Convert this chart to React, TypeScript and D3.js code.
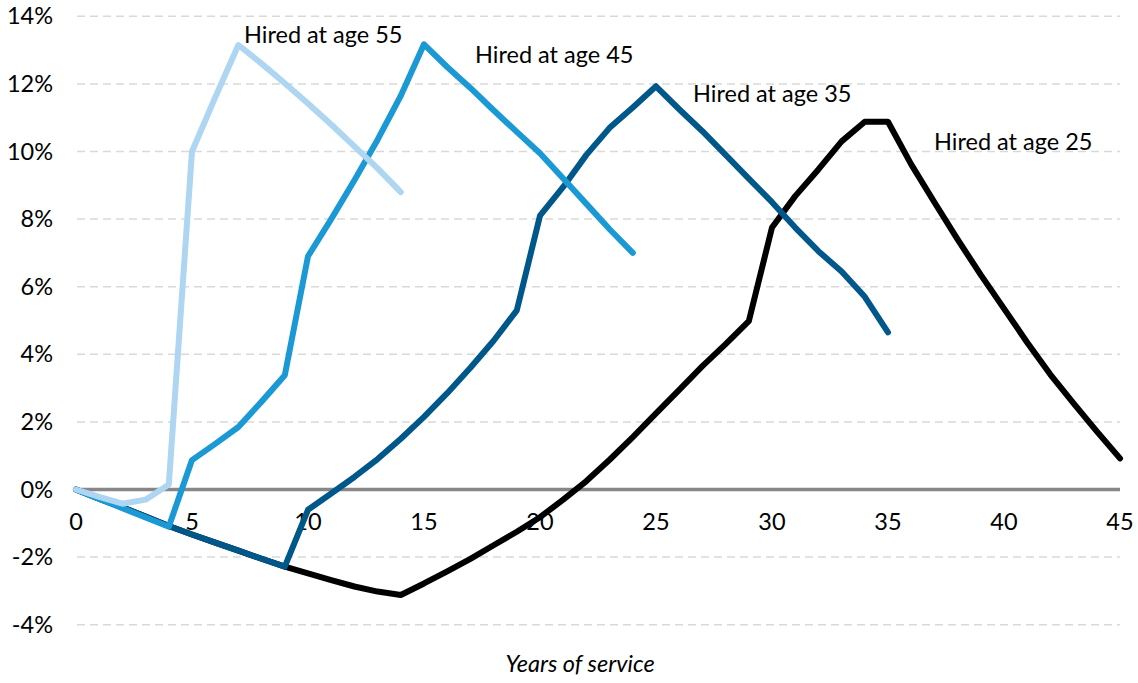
import React from "react";
import * as d3 from "d3";

const yearsMax = 45;
const yTicks = [-4, -2, 0, 2, 4, 6, 8, 10, 12, 14];
const xTicks = [0, 5, 10, 15, 20, 25, 30, 35, 40, 45];

const age25 = [0, -0.27, -0.53, -0.8, -1.08, -1.33, -1.57, -1.81, -2.05, -2.28,
  -2.48, -2.68, -2.87, -3.02, -3.12, -2.78, -2.42, -2.05, -1.65, -1.25,
  -0.82, -0.3, 0.25, 0.88, 1.55, 2.25, 2.95, 3.65, 4.3, 4.98,
  7.75, 8.68, 9.47, 10.3, 10.88, 10.88, 9.62, 8.5, 7.4, 6.35,
  5.35, 4.35, 3.4, 2.55, 1.72, 0.92];
const age35 = [0, -0.27, -0.53, -0.8, -1.08, -1.33, -1.57, -1.81, -2.05, -2.28,
  -0.6, -0.12, 0.37, 0.9, 1.5, 2.15, 2.85, 3.6, 4.4, 5.3,
  8.1, 8.95, 9.9, 10.7, 11.3, 11.93, 11.25, 10.6, 9.9, 9.2,
  8.5, 7.75, 7.05, 6.45, 5.7, 4.65];
const age45 = [0, -0.28, -0.55, -0.83, -1.1, 0.87, 1.35, 1.85, 2.6, 3.38,
  6.9, 8.0, 9.15, 10.35, 11.65, 13.17, 12.5, 11.88, 11.22, 10.58,
  9.95, 9.2, 8.45, 7.7, 7.0];
const age55 = [0, -0.22, -0.42, -0.3, 0.15, 10.0, 11.6, 13.15, 12.6, 12.02,
  11.42, 10.8, 10.15, 9.5, 8.8];

const seriesNames = ["Hired at age 25", "Hired at age 35", "Hired at age 45", "Hired at age 55"];
const seriesValues = [age25, age35, age45, age55];
const seriesColors = ["#000000", "#00578A", "#1A99D5", "#AED5F1"];
const labelPos = [
  { x: 934, y: 150 },
  { x: 693, y: 102 },
  { x: 475, y: 63 },
  { x: 244, y: 43 },
];

export default function App() {
  const W = 1138, H = 683;
  const x = d3.scaleLinear().domain([0, yearsMax]).range([76, 1120]);
  const y = d3.scaleLinear().domain([-4, 14]).range([624.7, 16.3]);
  const line = d3.line<number>().x((_, i) => x(i)).y((d) => y(d));
  const font = "Lato, 'Open Sans', sans-serif";
  const fs = 23.5;

  return (
    <svg width={W} height={H} style={{ position: "absolute", left: 0, top: 0, background: "#fff" }}
      fontFamily={font}>
      {yTicks.filter((t) => t !== 0).map((t) => (
        <line key={"g" + t} x1={77} x2={1120} y1={y(t)} y2={y(t)} stroke="#d9d9d9"
          strokeWidth={1.5} strokeDasharray="8,5" />
      ))}
      {yTicks.map((t) => (
        <text key={"yl" + t} x={53} y={y(t) + 8} textAnchor="end" fontSize={fs} fill="#000">
          {t + "%"}
        </text>
      ))}
      <line x1={76} x2={1120} y1={y(0)} y2={y(0)} stroke="#878787" strokeWidth={3.5} />
      {xTicks.map((t) => (
        <text key={"xl" + t} x={x(t)} y={530} textAnchor="middle" fontSize={fs} fill="#000">
          {t}
        </text>
      ))}
      {seriesValues.map((vals, i) => (
        <path key={"s" + i} d={line(vals) || ""} fill="none" stroke={seriesColors[i]}
          strokeWidth={6} strokeLinejoin="round" strokeLinecap="round" />
      ))}
      {seriesNames.map((n, i) => (
        <text key={"n" + i} x={labelPos[i].x} y={labelPos[i].y} fontSize={fs} fill="#000">
          {n}
        </text>
      ))}
      <text x={580} y={672} textAnchor="middle" fontSize={fs} fontStyle="italic" fill="#000">
        Years of service
      </text>
    </svg>
  );
}
